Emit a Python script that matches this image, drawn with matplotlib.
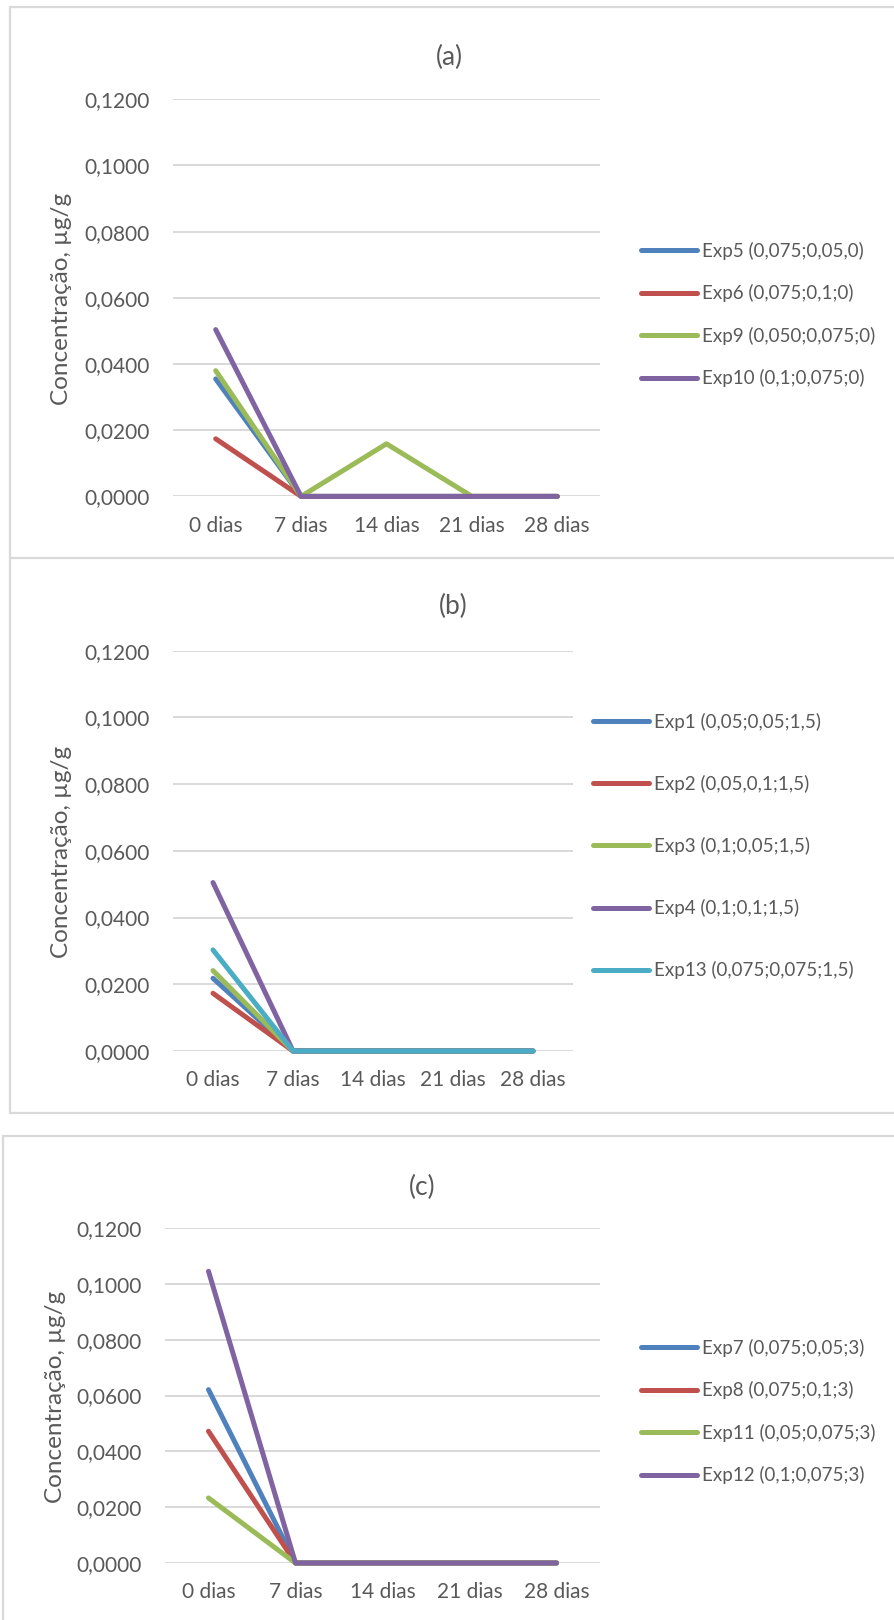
import matplotlib
matplotlib.use("Agg")
import matplotlib.pyplot as plt
from matplotlib.lines import Line2D

# ==============================
# DATA
# ==============================

days = ["0 dias", "7 dias", "14 dias", "21 dias", "28 dias"]
y_ticks = [0.0, 0.02, 0.04, 0.06, 0.08, 0.10, 0.12]

labels_a = ["Exp5 (0,075;0,05,0)", "Exp6 (0,075;0,1;0)",
            "Exp9 (0,050;0,075;0)", "Exp10 (0,1;0,075;0)"]
exp5 = [0.0355, 0, 0, 0, 0]
exp6 = [0.0174, 0, 0, 0, 0]
exp9 = [0.0380, 0, 0.0159, 0, 0]
exp10 = [0.0504, 0, 0, 0, 0]

labels_b = ["Exp1 (0,05;0,05;1,5)", "Exp2 (0,05,0,1;1,5)", "Exp3 (0,1;0,05;1,5)",
            "Exp4 (0,1;0,1;1,5)", "Exp13 (0,075;0,075;1,5)"]
exp1 = [0.0218, 0, 0, 0, 0]
exp2 = [0.0173, 0, 0, 0, 0]
exp3 = [0.0241, 0, 0, 0, 0]
exp4 = [0.0505, 0, 0, 0, 0]
exp13 = [0.0303, 0, 0, 0, 0]

labels_c = ["Exp7 (0,075;0,05;3)", "Exp8 (0,075;0,1;3)",
            "Exp11 (0,05;0,075;3)", "Exp12 (0,1;0,075;3)"]
exp7 = [0.0621, 0, 0, 0, 0]
exp8 = [0.0472, 0, 0, 0, 0]
exp11 = [0.0233, 0, 0, 0, 0]
exp12 = [0.1045, 0, 0, 0, 0]

colors = ["#4F81BD", "#C0504D", "#9BBB59", "#8064A2", "#4BACC6"]

# ==============================
# FIGURE SETUP
# ==============================

plt.rcParams["font.family"] = ["Lato", "DejaVu Sans"]

W, H = 894, 1620
fig = plt.figure(figsize=(W / 100, H / 100), dpi=100)
fig.patch.set_facecolor("white")

text_color = "#595959"
grid_color = "#D9D9D9"


def px_axes(left, top, right, bottom):
    return fig.add_axes([left / W, 1 - bottom / H, (right - left) / W, (bottom - top) / H])


def border(points):
    xs = [p[0] / W for p in points]
    ys = [1 - p[1] / H for p in points]
    fig.add_artist(Line2D(xs, ys, color=grid_color, lw=1.6, transform=fig.transFigure))


def draw_panel(box, series, labels, title, title_pos, ylabel_pos, legend_pos, spacing):
    ax = px_axes(*box)
    x = list(range(len(days)))
    for values, lab, col in zip(series, labels, colors):
        ax.plot(x, values, color=col, lw=3.6, label=lab,
                solid_capstyle="round", solid_joinstyle="round", clip_on=False, zorder=3)

    ax.set_xlim(-0.5, len(days) - 0.5)
    ax.set_ylim(0, 0.12)
    ax.set_xticks(x)
    ax.set_xticklabels(days)
    ax.set_yticks(y_ticks)
    ax.set_yticklabels([f"{v:.4f}".replace(".", ",") for v in y_ticks])
    ax.tick_params(length=0, labelsize=15, colors=text_color)
    ax.tick_params(axis="y", pad=17)
    ax.tick_params(axis="x", pad=14)
    ax.yaxis.grid(True, color=grid_color, lw=1.4)
    ax.set_axisbelow(True)
    for s in ax.spines.values():
        s.set_visible(False)

    fig.text(title_pos[0] / W, 1 - title_pos[1] / H, title, fontsize=19,
             color=text_color, ha="center", va="center")
    fig.text(ylabel_pos[0] / W, 1 - ylabel_pos[1] / H, "Concentração, µg/g", fontsize=17.5,
             color=text_color, ha="center", va="center", rotation=90)

    ax.legend(loc="center left", bbox_to_anchor=(legend_pos[0] / W, 1 - legend_pos[1] / H),
              bbox_transform=fig.transFigure, frameon=False, fontsize=13.5,
              handlelength=3.0, handletextpad=0.25, borderpad=0, borderaxespad=0,
              labelspacing=spacing, labelcolor=text_color)
    return ax


# ==============================
# PANEL BORDERS
# ==============================

border([(W + 5, 7), (9.5, 7), (9.5, 558), (W + 5, 558)])
border([(9.5, 558), (9.5, 1113), (W + 5, 1113)])
border([(W + 5, 1136), (3, 1136), (3, H + 5)])

# ==============================
# PANELS
# ==============================

draw_panel((173, 99.3, 600, 496.4), [exp5, exp6, exp9, exp10], labels_a,
           "(a)", (449, 57), (61, 299), (641, 314.5), 1.3)

draw_panel((173, 650.7, 573, 1051), [exp1, exp2, exp3, exp4, exp13], labels_b,
           "(b)", (453, 606), (61, 852), (593, 846), 2.35)

draw_panel((165, 1228, 600, 1563), [exp7, exp8, exp11, exp12], labels_c,
           "(c)", (422, 1187), (56, 1397), (641, 1411.5), 1.3)

plt.savefig("out.png", dpi=100)
